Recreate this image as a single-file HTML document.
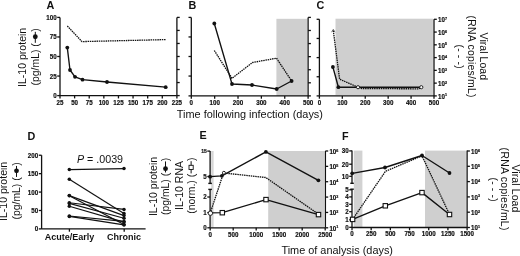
<!DOCTYPE html>
<html><head><meta charset="utf-8"><style>
html,body{margin:0;padding:0;background:#fff;}
body{width:520px;height:256px;overflow:hidden;}
svg{display:block;will-change:transform;}
text{font-family:"Liberation Sans", sans-serif;fill:#111;}
.tk{stroke:#111;stroke-width:0.18px;}
</style></head><body>
<svg width="520" height="256" viewBox="0 0 520 256">
<rect width="520" height="256" fill="#fff"/>
<text x="50.50" y="9.20" font-size="10.8" text-anchor="middle" font-weight="bold" >A</text>
<line x1="60.00" y1="17.40" x2="60.00" y2="95.60" stroke="#111" stroke-width="1.3" />
<line x1="57.20" y1="17.40" x2="60.00" y2="17.40" stroke="#111" stroke-width="1.3" />
<text x="0" y="0" transform="translate(56.60,19.85) scale(1,1.15)" font-size="6.2" text-anchor="end" font-weight="bold" class="tk" >100</text>
<line x1="57.20" y1="36.95" x2="60.00" y2="36.95" stroke="#111" stroke-width="1.3" />
<text x="0" y="0" transform="translate(56.60,39.40) scale(1,1.15)" font-size="6.2" text-anchor="end" font-weight="bold" class="tk" >75</text>
<line x1="57.20" y1="56.50" x2="60.00" y2="56.50" stroke="#111" stroke-width="1.3" />
<text x="0" y="0" transform="translate(56.60,58.95) scale(1,1.15)" font-size="6.2" text-anchor="end" font-weight="bold" class="tk" >50</text>
<line x1="57.20" y1="76.05" x2="60.00" y2="76.05" stroke="#111" stroke-width="1.3" />
<text x="0" y="0" transform="translate(56.60,78.50) scale(1,1.15)" font-size="6.2" text-anchor="end" font-weight="bold" class="tk" >25</text>
<line x1="57.20" y1="95.60" x2="60.00" y2="95.60" stroke="#111" stroke-width="1.3" />
<text x="0" y="0" transform="translate(56.60,98.05) scale(1,1.15)" font-size="6.2" text-anchor="end" font-weight="bold" class="tk" >0</text>
<line x1="60.00" y1="95.60" x2="176.90" y2="95.60" stroke="#111" stroke-width="1.3" />
<line x1="60.00" y1="95.60" x2="60.00" y2="98.40" stroke="#111" stroke-width="1.3" />
<text x="0" y="0" transform="translate(60.00,104.50) scale(1,1.15)" font-size="6.2" text-anchor="middle" font-weight="bold" class="tk" >25</text>
<line x1="74.61" y1="95.60" x2="74.61" y2="98.40" stroke="#111" stroke-width="1.3" />
<text x="0" y="0" transform="translate(74.61,104.50) scale(1,1.15)" font-size="6.2" text-anchor="middle" font-weight="bold" class="tk" >50</text>
<line x1="89.22" y1="95.60" x2="89.22" y2="98.40" stroke="#111" stroke-width="1.3" />
<text x="0" y="0" transform="translate(89.22,104.50) scale(1,1.15)" font-size="6.2" text-anchor="middle" font-weight="bold" class="tk" >75</text>
<line x1="103.84" y1="95.60" x2="103.84" y2="98.40" stroke="#111" stroke-width="1.3" />
<text x="0" y="0" transform="translate(103.84,104.50) scale(1,1.15)" font-size="6.2" text-anchor="middle" font-weight="bold" class="tk" >100</text>
<line x1="118.45" y1="95.60" x2="118.45" y2="98.40" stroke="#111" stroke-width="1.3" />
<text x="0" y="0" transform="translate(118.45,104.50) scale(1,1.15)" font-size="6.2" text-anchor="middle" font-weight="bold" class="tk" >125</text>
<line x1="133.06" y1="95.60" x2="133.06" y2="98.40" stroke="#111" stroke-width="1.3" />
<text x="0" y="0" transform="translate(133.06,104.50) scale(1,1.15)" font-size="6.2" text-anchor="middle" font-weight="bold" class="tk" >150</text>
<line x1="147.68" y1="95.60" x2="147.68" y2="98.40" stroke="#111" stroke-width="1.3" />
<text x="0" y="0" transform="translate(147.68,104.50) scale(1,1.15)" font-size="6.2" text-anchor="middle" font-weight="bold" class="tk" >175</text>
<line x1="162.29" y1="95.60" x2="162.29" y2="98.40" stroke="#111" stroke-width="1.3" />
<text x="0" y="0" transform="translate(162.29,104.50) scale(1,1.15)" font-size="6.2" text-anchor="middle" font-weight="bold" class="tk" >200</text>
<line x1="176.90" y1="95.60" x2="176.90" y2="98.40" stroke="#111" stroke-width="1.3" />
<text x="0" y="0" transform="translate(176.90,104.50) scale(1,1.15)" font-size="6.2" text-anchor="middle" font-weight="bold" class="tk" >225</text>
<line x1="176.90" y1="17.40" x2="176.90" y2="95.60" stroke="#111" stroke-width="1.3" />
<line x1="176.90" y1="17.40" x2="179.70" y2="17.40" stroke="#111" stroke-width="1.3" />
<line x1="176.90" y1="30.43" x2="179.70" y2="30.43" stroke="#111" stroke-width="1.3" />
<line x1="176.90" y1="43.46" x2="179.70" y2="43.46" stroke="#111" stroke-width="1.3" />
<line x1="176.90" y1="56.49" x2="179.70" y2="56.49" stroke="#111" stroke-width="1.3" />
<line x1="176.90" y1="69.52" x2="179.70" y2="69.52" stroke="#111" stroke-width="1.3" />
<line x1="176.90" y1="82.55" x2="179.70" y2="82.55" stroke="#111" stroke-width="1.3" />
<line x1="176.90" y1="95.58" x2="179.70" y2="95.58" stroke="#111" stroke-width="1.3" />
<polyline points="67.30,26.00 82.00,41.60 166.00,39.60" fill="none" stroke="#111" stroke-width="1.3" stroke-linejoin="round" stroke-dasharray="1.5 0.75"/>
<polyline points="67.30,47.60 70.00,70.00 75.00,76.80 82.50,79.70 107.00,82.00 165.70,87.20" fill="none" stroke="#111" stroke-width="1.35" stroke-linejoin="round"/>
<circle cx="67.30" cy="47.60" r="1.9" fill="#111"/>
<circle cx="70.00" cy="70.00" r="1.9" fill="#111"/>
<circle cx="75.00" cy="76.80" r="1.9" fill="#111"/>
<circle cx="82.50" cy="79.70" r="1.9" fill="#111"/>
<circle cx="107.00" cy="82.00" r="1.9" fill="#111"/>
<circle cx="165.70" cy="87.20" r="1.9" fill="#111"/>
<text x="192.50" y="9.20" font-size="10.8" text-anchor="middle" font-weight="bold" >B</text>
<rect x="276.40" y="18.80" width="30.70" height="77.10" fill="#cfcfcf"/>
<line x1="191.30" y1="17.40" x2="191.30" y2="95.90" stroke="#111" stroke-width="1.3" />
<line x1="188.50" y1="17.40" x2="191.30" y2="17.40" stroke="#111" stroke-width="1.3" />
<line x1="188.50" y1="36.95" x2="191.30" y2="36.95" stroke="#111" stroke-width="1.3" />
<line x1="188.50" y1="56.50" x2="191.30" y2="56.50" stroke="#111" stroke-width="1.3" />
<line x1="188.50" y1="76.05" x2="191.30" y2="76.05" stroke="#111" stroke-width="1.3" />
<line x1="188.50" y1="95.90" x2="191.30" y2="95.90" stroke="#111" stroke-width="1.3" />
<line x1="191.30" y1="95.90" x2="308.10" y2="95.90" stroke="#111" stroke-width="1.3" />
<line x1="191.30" y1="95.90" x2="191.30" y2="98.70" stroke="#111" stroke-width="1.3" />
<text x="0" y="0" transform="translate(191.30,104.80) scale(1,1.15)" font-size="6.2" text-anchor="middle" font-weight="bold" class="tk" >0</text>
<line x1="214.66" y1="95.90" x2="214.66" y2="98.70" stroke="#111" stroke-width="1.3" />
<text x="0" y="0" transform="translate(214.66,104.80) scale(1,1.15)" font-size="6.2" text-anchor="middle" font-weight="bold" class="tk" >100</text>
<line x1="238.02" y1="95.90" x2="238.02" y2="98.70" stroke="#111" stroke-width="1.3" />
<text x="0" y="0" transform="translate(238.02,104.80) scale(1,1.15)" font-size="6.2" text-anchor="middle" font-weight="bold" class="tk" >200</text>
<line x1="261.38" y1="95.90" x2="261.38" y2="98.70" stroke="#111" stroke-width="1.3" />
<text x="0" y="0" transform="translate(261.38,104.80) scale(1,1.15)" font-size="6.2" text-anchor="middle" font-weight="bold" class="tk" >300</text>
<line x1="284.74" y1="95.90" x2="284.74" y2="98.70" stroke="#111" stroke-width="1.3" />
<text x="0" y="0" transform="translate(284.74,104.80) scale(1,1.15)" font-size="6.2" text-anchor="middle" font-weight="bold" class="tk" >400</text>
<line x1="308.10" y1="95.90" x2="308.10" y2="98.70" stroke="#111" stroke-width="1.3" />
<text x="0" y="0" transform="translate(308.10,104.80) scale(1,1.15)" font-size="6.2" text-anchor="middle" font-weight="bold" class="tk" >500</text>
<line x1="308.10" y1="17.40" x2="308.10" y2="95.90" stroke="#111" stroke-width="1.3" />
<line x1="308.10" y1="17.40" x2="310.90" y2="17.40" stroke="#111" stroke-width="1.3" />
<line x1="308.10" y1="30.48" x2="310.90" y2="30.48" stroke="#111" stroke-width="1.3" />
<line x1="308.10" y1="43.56" x2="310.90" y2="43.56" stroke="#111" stroke-width="1.3" />
<line x1="308.10" y1="56.64" x2="310.90" y2="56.64" stroke="#111" stroke-width="1.3" />
<line x1="308.10" y1="69.72" x2="310.90" y2="69.72" stroke="#111" stroke-width="1.3" />
<line x1="308.10" y1="82.80" x2="310.90" y2="82.80" stroke="#111" stroke-width="1.3" />
<line x1="308.10" y1="95.88" x2="310.90" y2="95.88" stroke="#111" stroke-width="1.3" />
<polyline points="214.30,50.50 232.00,78.30 252.50,62.50 276.50,58.20 291.60,81.00" fill="none" stroke="#111" stroke-width="1.3" stroke-linejoin="round" stroke-dasharray="1.5 0.75"/>
<polyline points="214.30,23.50 232.00,84.00 252.00,85.00 276.70,89.00 291.60,81.00" fill="none" stroke="#111" stroke-width="1.35" stroke-linejoin="round"/>
<circle cx="214.30" cy="23.50" r="1.9" fill="#111"/>
<circle cx="232.00" cy="84.00" r="1.9" fill="#111"/>
<circle cx="252.00" cy="85.00" r="1.9" fill="#111"/>
<circle cx="276.70" cy="89.00" r="1.9" fill="#111"/>
<circle cx="291.60" cy="81.00" r="1.9" fill="#111"/>
<text x="320.50" y="9.20" font-size="10.8" text-anchor="middle" font-weight="bold" >C</text>
<rect x="335.50" y="18.70" width="97.40" height="76.30" fill="#cfcfcf"/>
<line x1="319.40" y1="19.30" x2="319.40" y2="95.90" stroke="#111" stroke-width="1.3" />
<line x1="316.60" y1="19.30" x2="319.40" y2="19.30" stroke="#111" stroke-width="1.3" />
<line x1="316.60" y1="38.45" x2="319.40" y2="38.45" stroke="#111" stroke-width="1.3" />
<line x1="316.60" y1="57.60" x2="319.40" y2="57.60" stroke="#111" stroke-width="1.3" />
<line x1="316.60" y1="76.75" x2="319.40" y2="76.75" stroke="#111" stroke-width="1.3" />
<line x1="316.60" y1="95.90" x2="319.40" y2="95.90" stroke="#111" stroke-width="1.3" />
<line x1="319.40" y1="95.90" x2="434.00" y2="95.90" stroke="#111" stroke-width="1.3" />
<line x1="319.40" y1="95.90" x2="319.40" y2="98.70" stroke="#111" stroke-width="1.3" />
<text x="0" y="0" transform="translate(319.40,104.80) scale(1,1.15)" font-size="6.2" text-anchor="middle" font-weight="bold" class="tk" >0</text>
<line x1="342.32" y1="95.90" x2="342.32" y2="98.70" stroke="#111" stroke-width="1.3" />
<text x="0" y="0" transform="translate(342.32,104.80) scale(1,1.15)" font-size="6.2" text-anchor="middle" font-weight="bold" class="tk" >100</text>
<line x1="365.24" y1="95.90" x2="365.24" y2="98.70" stroke="#111" stroke-width="1.3" />
<text x="0" y="0" transform="translate(365.24,104.80) scale(1,1.15)" font-size="6.2" text-anchor="middle" font-weight="bold" class="tk" >200</text>
<line x1="388.16" y1="95.90" x2="388.16" y2="98.70" stroke="#111" stroke-width="1.3" />
<text x="0" y="0" transform="translate(388.16,104.80) scale(1,1.15)" font-size="6.2" text-anchor="middle" font-weight="bold" class="tk" >300</text>
<line x1="411.08" y1="95.90" x2="411.08" y2="98.70" stroke="#111" stroke-width="1.3" />
<text x="0" y="0" transform="translate(411.08,104.80) scale(1,1.15)" font-size="6.2" text-anchor="middle" font-weight="bold" class="tk" >400</text>
<line x1="434.00" y1="95.90" x2="434.00" y2="98.70" stroke="#111" stroke-width="1.3" />
<text x="0" y="0" transform="translate(434.00,104.80) scale(1,1.15)" font-size="6.2" text-anchor="middle" font-weight="bold" class="tk" >500</text>
<line x1="434.00" y1="19.30" x2="434.00" y2="95.90" stroke="#111" stroke-width="1.3" />
<line x1="434.00" y1="19.30" x2="436.80" y2="19.30" stroke="#111" stroke-width="1.3" />
<text x="0" y="0" transform="translate(438.00,22.15) scale(1,1.15)" font-size="6.2" text-anchor="start" font-weight="bold" class="tk" >10<tspan font-size="3.7" dy="-2.0">7</tspan></text>
<line x1="434.00" y1="32.07" x2="436.80" y2="32.07" stroke="#111" stroke-width="1.3" />
<text x="0" y="0" transform="translate(438.00,34.92) scale(1,1.15)" font-size="6.2" text-anchor="start" font-weight="bold" class="tk" >10<tspan font-size="3.7" dy="-2.0">6</tspan></text>
<line x1="434.00" y1="44.83" x2="436.80" y2="44.83" stroke="#111" stroke-width="1.3" />
<text x="0" y="0" transform="translate(438.00,47.68) scale(1,1.15)" font-size="6.2" text-anchor="start" font-weight="bold" class="tk" >10<tspan font-size="3.7" dy="-2.0">5</tspan></text>
<line x1="434.00" y1="57.60" x2="436.80" y2="57.60" stroke="#111" stroke-width="1.3" />
<text x="0" y="0" transform="translate(438.00,60.45) scale(1,1.15)" font-size="6.2" text-anchor="start" font-weight="bold" class="tk" >10<tspan font-size="3.7" dy="-2.0">4</tspan></text>
<line x1="434.00" y1="70.37" x2="436.80" y2="70.37" stroke="#111" stroke-width="1.3" />
<text x="0" y="0" transform="translate(438.00,73.22) scale(1,1.15)" font-size="6.2" text-anchor="start" font-weight="bold" class="tk" >10<tspan font-size="3.7" dy="-2.0">3</tspan></text>
<line x1="434.00" y1="83.13" x2="436.80" y2="83.13" stroke="#111" stroke-width="1.3" />
<text x="0" y="0" transform="translate(438.00,85.98) scale(1,1.15)" font-size="6.2" text-anchor="start" font-weight="bold" class="tk" >10<tspan font-size="3.7" dy="-2.0">2</tspan></text>
<line x1="434.00" y1="95.90" x2="436.80" y2="95.90" stroke="#111" stroke-width="1.3" />
<text x="0" y="0" transform="translate(438.00,98.75) scale(1,1.15)" font-size="6.2" text-anchor="start" font-weight="bold" class="tk" >10<tspan font-size="3.7" dy="-2.0">1</tspan></text>
<polyline points="333.30,30.50 339.60,79.20 358.00,87.20 362.00,88.60 418.50,88.80 421.30,87.60" fill="none" stroke="#111" stroke-width="1.3" stroke-linejoin="round" stroke-dasharray="1.5 0.75"/>
<polyline points="332.90,67.00 338.40,87.20 358.00,87.20 421.30,87.20" fill="none" stroke="#111" stroke-width="1.35" stroke-linejoin="round"/>
<circle cx="332.90" cy="67.00" r="1.9" fill="#111"/>
<circle cx="338.40" cy="87.20" r="1.9" fill="#111"/>
<circle cx="358.00" cy="87.20" r="1.6" fill="#fff" stroke="#111" stroke-width="0.9"/>
<circle cx="421.30" cy="87.20" r="1.6" fill="#fff" stroke="#111" stroke-width="0.9"/>
<path d="M331.6,32.2 L333.3,29.4 L335.0,32.2" fill="none" stroke="#444" stroke-width="0.8"/>
<text x="249.90" y="117.80" font-size="10.9" text-anchor="middle" font-weight="normal" >Time following infection (days)</text>
<text x="31.50" y="140.20" font-size="10.8" text-anchor="middle" font-weight="bold" >D</text>
<line x1="41.60" y1="155.20" x2="41.60" y2="228.90" stroke="#111" stroke-width="1.3" />
<line x1="38.80" y1="155.24" x2="41.60" y2="155.24" stroke="#111" stroke-width="1.3" />
<text x="0" y="0" transform="translate(38.20,157.69) scale(1,1.15)" font-size="6.2" text-anchor="end" font-weight="bold" class="tk" >200</text>
<line x1="38.80" y1="173.66" x2="41.60" y2="173.66" stroke="#111" stroke-width="1.3" />
<text x="0" y="0" transform="translate(38.20,176.10) scale(1,1.15)" font-size="6.2" text-anchor="end" font-weight="bold" class="tk" >150</text>
<line x1="38.80" y1="192.07" x2="41.60" y2="192.07" stroke="#111" stroke-width="1.3" />
<text x="0" y="0" transform="translate(38.20,194.52) scale(1,1.15)" font-size="6.2" text-anchor="end" font-weight="bold" class="tk" >100</text>
<line x1="38.80" y1="210.49" x2="41.60" y2="210.49" stroke="#111" stroke-width="1.3" />
<text x="0" y="0" transform="translate(38.20,212.94) scale(1,1.15)" font-size="6.2" text-anchor="end" font-weight="bold" class="tk" >50</text>
<line x1="38.80" y1="228.90" x2="41.60" y2="228.90" stroke="#111" stroke-width="1.3" />
<text x="0" y="0" transform="translate(38.20,231.35) scale(1,1.15)" font-size="6.2" text-anchor="end" font-weight="bold" class="tk" >0</text>
<line x1="41.60" y1="228.90" x2="145.60" y2="228.90" stroke="#111" stroke-width="1.3" />
<line x1="69.40" y1="228.90" x2="69.40" y2="231.70" stroke="#111" stroke-width="1.3" />
<line x1="124.20" y1="228.90" x2="124.20" y2="231.70" stroke="#111" stroke-width="1.3" />
<text x="69.60" y="239.60" font-size="9.0" text-anchor="middle" font-weight="bold" >Acute/Early</text>
<text x="123.90" y="239.60" font-size="9.0" text-anchor="middle" font-weight="bold" >Chronic</text>
<text x="100.00" y="162.80" font-size="10.7" text-anchor="middle" font-weight="normal" ><tspan font-style="italic">P</tspan> = .0039</text>
<line x1="69.30" y1="169.60" x2="124.00" y2="168.60" stroke="#111" stroke-width="1.15" />
<line x1="69.30" y1="179.30" x2="124.00" y2="213.60" stroke="#111" stroke-width="1.15" />
<line x1="69.30" y1="195.60" x2="124.00" y2="215.60" stroke="#111" stroke-width="1.15" />
<line x1="69.30" y1="195.80" x2="124.00" y2="224.40" stroke="#111" stroke-width="1.15" />
<line x1="69.30" y1="202.80" x2="124.00" y2="209.40" stroke="#111" stroke-width="1.15" />
<line x1="69.30" y1="203.40" x2="124.00" y2="218.20" stroke="#111" stroke-width="1.15" />
<line x1="69.30" y1="206.30" x2="124.00" y2="222.10" stroke="#111" stroke-width="1.15" />
<line x1="69.30" y1="216.00" x2="124.00" y2="221.40" stroke="#111" stroke-width="1.15" />
<line x1="69.30" y1="216.40" x2="124.00" y2="224.90" stroke="#111" stroke-width="1.15" />
<circle cx="69.30" cy="169.60" r="1.75" fill="#111"/>
<circle cx="124.00" cy="168.60" r="1.75" fill="#111"/>
<circle cx="69.30" cy="179.30" r="1.75" fill="#111"/>
<circle cx="124.00" cy="213.60" r="1.75" fill="#111"/>
<circle cx="69.30" cy="195.60" r="1.75" fill="#111"/>
<circle cx="124.00" cy="215.60" r="1.75" fill="#111"/>
<circle cx="69.30" cy="195.80" r="1.75" fill="#111"/>
<circle cx="124.00" cy="224.40" r="1.75" fill="#111"/>
<circle cx="69.30" cy="202.80" r="1.75" fill="#111"/>
<circle cx="124.00" cy="209.40" r="1.75" fill="#111"/>
<circle cx="69.30" cy="203.40" r="1.75" fill="#111"/>
<circle cx="124.00" cy="218.20" r="1.75" fill="#111"/>
<circle cx="69.30" cy="206.30" r="1.75" fill="#111"/>
<circle cx="124.00" cy="222.10" r="1.75" fill="#111"/>
<circle cx="69.30" cy="216.00" r="1.75" fill="#111"/>
<circle cx="124.00" cy="221.40" r="1.75" fill="#111"/>
<circle cx="69.30" cy="216.40" r="1.75" fill="#111"/>
<circle cx="124.00" cy="224.90" r="1.75" fill="#111"/>
<text x="203.00" y="139.40" font-size="10.8" text-anchor="middle" font-weight="bold" >E</text>
<rect x="211.20" y="151.00" width="2.40" height="76.80" fill="#d6d6d6"/>
<rect x="268.20" y="151.00" width="55.80" height="76.80" fill="#cfcfcf"/>
<line x1="210.10" y1="151.00" x2="210.10" y2="183.40" stroke="#111" stroke-width="1.3" />
<line x1="210.10" y1="189.30" x2="210.10" y2="227.80" stroke="#111" stroke-width="1.3" />
<line x1="208.30" y1="183.40" x2="211.90" y2="183.40" stroke="#111" stroke-width="1.4" />
<line x1="208.30" y1="189.40" x2="211.90" y2="189.40" stroke="#111" stroke-width="1.4" />
<line x1="207.30" y1="151.10" x2="210.10" y2="151.10" stroke="#111" stroke-width="1.3" />
<text x="206.80" y="152.50" font-size="5.0" text-anchor="end" font-weight="bold" class="tk">15</text>
<line x1="207.30" y1="176.50" x2="210.10" y2="176.50" stroke="#111" stroke-width="1.3" />
<text x="0" y="0" transform="translate(206.70,178.95) scale(1,1.15)" font-size="6.2" text-anchor="end" font-weight="bold" class="tk" >5</text>
<line x1="207.30" y1="197.00" x2="210.10" y2="197.00" stroke="#111" stroke-width="1.3" />
<text x="0" y="0" transform="translate(206.70,199.45) scale(1,1.15)" font-size="6.2" text-anchor="end" font-weight="bold" class="tk" >2</text>
<line x1="207.30" y1="212.60" x2="210.10" y2="212.60" stroke="#111" stroke-width="1.3" />
<text x="0" y="0" transform="translate(206.70,215.05) scale(1,1.15)" font-size="6.2" text-anchor="end" font-weight="bold" class="tk" >1</text>
<line x1="207.30" y1="227.80" x2="210.10" y2="227.80" stroke="#111" stroke-width="1.3" />
<text x="0" y="0" transform="translate(206.70,230.25) scale(1,1.15)" font-size="6.2" text-anchor="end" font-weight="bold" class="tk" >0</text>
<line x1="210.10" y1="227.80" x2="325.40" y2="227.80" stroke="#111" stroke-width="1.3" />
<line x1="210.20" y1="227.80" x2="210.20" y2="230.60" stroke="#111" stroke-width="1.3" />
<text x="0" y="0" transform="translate(210.20,236.70) scale(1,1.15)" font-size="6.2" text-anchor="middle" font-weight="bold" class="tk" >0</text>
<line x1="233.20" y1="227.80" x2="233.20" y2="230.60" stroke="#111" stroke-width="1.3" />
<text x="0" y="0" transform="translate(233.20,236.70) scale(1,1.15)" font-size="6.2" text-anchor="middle" font-weight="bold" class="tk" >500</text>
<line x1="256.20" y1="227.80" x2="256.20" y2="230.60" stroke="#111" stroke-width="1.3" />
<text x="0" y="0" transform="translate(256.20,236.70) scale(1,1.15)" font-size="6.2" text-anchor="middle" font-weight="bold" class="tk" >1000</text>
<line x1="279.20" y1="227.80" x2="279.20" y2="230.60" stroke="#111" stroke-width="1.3" />
<text x="0" y="0" transform="translate(279.20,236.70) scale(1,1.15)" font-size="6.2" text-anchor="middle" font-weight="bold" class="tk" >1500</text>
<line x1="302.20" y1="227.80" x2="302.20" y2="230.60" stroke="#111" stroke-width="1.3" />
<text x="0" y="0" transform="translate(302.20,236.70) scale(1,1.15)" font-size="6.2" text-anchor="middle" font-weight="bold" class="tk" >2000</text>
<line x1="325.20" y1="227.80" x2="325.20" y2="230.60" stroke="#111" stroke-width="1.3" />
<text x="0" y="0" transform="translate(325.20,236.70) scale(1,1.15)" font-size="6.2" text-anchor="middle" font-weight="bold" class="tk" >2500</text>
<line x1="325.40" y1="151.00" x2="325.40" y2="227.80" stroke="#111" stroke-width="1.3" />
<line x1="325.40" y1="151.00" x2="328.20" y2="151.00" stroke="#111" stroke-width="1.3" />
<text x="0" y="0" transform="translate(329.40,153.85) scale(1,1.15)" font-size="6.2" text-anchor="start" font-weight="bold" class="tk" >10<tspan font-size="3.7" dy="-2.0">6</tspan></text>
<line x1="325.40" y1="166.36" x2="328.20" y2="166.36" stroke="#111" stroke-width="1.3" />
<text x="0" y="0" transform="translate(329.40,169.21) scale(1,1.15)" font-size="6.2" text-anchor="start" font-weight="bold" class="tk" >10<tspan font-size="3.7" dy="-2.0">5</tspan></text>
<line x1="325.40" y1="181.72" x2="328.20" y2="181.72" stroke="#111" stroke-width="1.3" />
<text x="0" y="0" transform="translate(329.40,184.57) scale(1,1.15)" font-size="6.2" text-anchor="start" font-weight="bold" class="tk" >10<tspan font-size="3.7" dy="-2.0">4</tspan></text>
<line x1="325.40" y1="197.08" x2="328.20" y2="197.08" stroke="#111" stroke-width="1.3" />
<text x="0" y="0" transform="translate(329.40,199.93) scale(1,1.15)" font-size="6.2" text-anchor="start" font-weight="bold" class="tk" >10<tspan font-size="3.7" dy="-2.0">3</tspan></text>
<line x1="325.40" y1="212.44" x2="328.20" y2="212.44" stroke="#111" stroke-width="1.3" />
<text x="0" y="0" transform="translate(329.40,215.29) scale(1,1.15)" font-size="6.2" text-anchor="start" font-weight="bold" class="tk" >10<tspan font-size="3.7" dy="-2.0">2</tspan></text>
<line x1="325.40" y1="227.80" x2="328.20" y2="227.80" stroke="#111" stroke-width="1.3" />
<text x="0" y="0" transform="translate(329.40,230.65) scale(1,1.15)" font-size="6.2" text-anchor="start" font-weight="bold" class="tk" >10<tspan font-size="3.7" dy="-2.0">1</tspan></text>
<polyline points="210.20,213.20 223.50,173.00 265.80,177.50 318.50,214.20" fill="none" stroke="#111" stroke-width="1.3" stroke-linejoin="round" stroke-dasharray="1.5 0.75"/>
<polyline points="210.10,176.70 221.90,175.80 265.90,151.90 318.40,180.30" fill="none" stroke="#111" stroke-width="1.35" stroke-linejoin="round"/>
<circle cx="210.10" cy="176.70" r="1.9" fill="#111"/>
<circle cx="221.90" cy="175.80" r="1.9" fill="#111"/>
<circle cx="265.90" cy="151.90" r="1.9" fill="#111"/>
<circle cx="318.40" cy="180.30" r="1.9" fill="#111"/>
<circle cx="223.90" cy="172.80" r="1.5" fill="#fff" stroke="#111" stroke-width="0.9"/>
<polyline points="210.40,212.90 222.30,212.70 266.00,199.60 318.50,214.60" fill="none" stroke="#111" stroke-width="1.35" stroke-linejoin="round"/>
<rect x="220.10" y="210.50" width="4.4" height="4.4" fill="#fff" stroke="#111" stroke-width="1.1"/>
<rect x="263.80" y="197.40" width="4.4" height="4.4" fill="#fff" stroke="#111" stroke-width="1.1"/>
<rect x="316.30" y="212.40" width="4.4" height="4.4" fill="#fff" stroke="#111" stroke-width="1.1"/>
<circle cx="210.40" cy="213.20" r="2.2" fill="#fff" stroke="#111" stroke-width="0.9"/>
<text x="345.40" y="139.60" font-size="10.8" text-anchor="middle" font-weight="bold" >F</text>
<rect x="353.80" y="150.60" width="8.60" height="76.70" fill="#d2d2d2"/>
<rect x="425.00" y="150.60" width="40.90" height="76.90" fill="#cfcfcf"/>
<line x1="352.00" y1="150.60" x2="352.00" y2="183.30" stroke="#111" stroke-width="1.3" />
<line x1="352.00" y1="189.20" x2="352.00" y2="227.50" stroke="#111" stroke-width="1.3" />
<line x1="350.30" y1="183.30" x2="353.80" y2="183.30" stroke="#111" stroke-width="1.4" />
<line x1="350.30" y1="189.20" x2="353.80" y2="189.20" stroke="#111" stroke-width="1.4" />
<line x1="349.20" y1="150.90" x2="352.00" y2="150.90" stroke="#111" stroke-width="1.3" />
<text x="0" y="0" transform="translate(348.60,153.35) scale(1,1.15)" font-size="6.2" text-anchor="end" font-weight="bold" class="tk" >30</text>
<line x1="349.20" y1="164.20" x2="352.00" y2="164.20" stroke="#111" stroke-width="1.3" />
<text x="0" y="0" transform="translate(348.60,166.65) scale(1,1.15)" font-size="6.2" text-anchor="end" font-weight="bold" class="tk" >20</text>
<line x1="349.20" y1="176.30" x2="352.00" y2="176.30" stroke="#111" stroke-width="1.3" />
<text x="0" y="0" transform="translate(348.60,178.75) scale(1,1.15)" font-size="6.2" text-anchor="end" font-weight="bold" class="tk" >10</text>
<line x1="349.20" y1="189.80" x2="352.00" y2="189.80" stroke="#111" stroke-width="1.3" />
<text x="0" y="0" transform="translate(348.60,192.25) scale(1,1.15)" font-size="6.2" text-anchor="end" font-weight="bold" class="tk" >5</text>
<line x1="349.20" y1="196.90" x2="352.00" y2="196.90" stroke="#111" stroke-width="1.3" />
<text x="0" y="0" transform="translate(348.60,199.35) scale(1,1.15)" font-size="6.2" text-anchor="end" font-weight="bold" class="tk" >4</text>
<line x1="349.20" y1="204.30" x2="352.00" y2="204.30" stroke="#111" stroke-width="1.3" />
<text x="0" y="0" transform="translate(348.60,206.75) scale(1,1.15)" font-size="6.2" text-anchor="end" font-weight="bold" class="tk" >3</text>
<line x1="349.20" y1="211.70" x2="352.00" y2="211.70" stroke="#111" stroke-width="1.3" />
<text x="0" y="0" transform="translate(348.60,214.15) scale(1,1.15)" font-size="6.2" text-anchor="end" font-weight="bold" class="tk" >2</text>
<line x1="349.20" y1="219.80" x2="352.00" y2="219.80" stroke="#111" stroke-width="1.3" />
<text x="0" y="0" transform="translate(348.60,222.25) scale(1,1.15)" font-size="6.2" text-anchor="end" font-weight="bold" class="tk" >1</text>
<line x1="349.20" y1="227.30" x2="352.00" y2="227.30" stroke="#111" stroke-width="1.3" />
<text x="0" y="0" transform="translate(348.60,229.75) scale(1,1.15)" font-size="6.2" text-anchor="end" font-weight="bold" class="tk" >0</text>
<line x1="352.00" y1="227.50" x2="467.10" y2="227.50" stroke="#111" stroke-width="1.3" />
<line x1="352.00" y1="227.50" x2="352.00" y2="230.30" stroke="#111" stroke-width="1.3" />
<text x="0" y="0" transform="translate(352.00,236.40) scale(1,1.15)" font-size="6.2" text-anchor="middle" font-weight="bold" class="tk" >0</text>
<line x1="371.18" y1="227.50" x2="371.18" y2="230.30" stroke="#111" stroke-width="1.3" />
<text x="0" y="0" transform="translate(371.18,236.40) scale(1,1.15)" font-size="6.2" text-anchor="middle" font-weight="bold" class="tk" >250</text>
<line x1="390.37" y1="227.50" x2="390.37" y2="230.30" stroke="#111" stroke-width="1.3" />
<text x="0" y="0" transform="translate(390.37,236.40) scale(1,1.15)" font-size="6.2" text-anchor="middle" font-weight="bold" class="tk" >500</text>
<line x1="409.55" y1="227.50" x2="409.55" y2="230.30" stroke="#111" stroke-width="1.3" />
<text x="0" y="0" transform="translate(409.55,236.40) scale(1,1.15)" font-size="6.2" text-anchor="middle" font-weight="bold" class="tk" >750</text>
<line x1="428.73" y1="227.50" x2="428.73" y2="230.30" stroke="#111" stroke-width="1.3" />
<text x="0" y="0" transform="translate(428.73,236.40) scale(1,1.15)" font-size="6.2" text-anchor="middle" font-weight="bold" class="tk" >1000</text>
<line x1="447.91" y1="227.50" x2="447.91" y2="230.30" stroke="#111" stroke-width="1.3" />
<text x="0" y="0" transform="translate(447.91,236.40) scale(1,1.15)" font-size="6.2" text-anchor="middle" font-weight="bold" class="tk" >1250</text>
<line x1="467.10" y1="227.50" x2="467.10" y2="230.30" stroke="#111" stroke-width="1.3" />
<text x="0" y="0" transform="translate(467.10,236.40) scale(1,1.15)" font-size="6.2" text-anchor="middle" font-weight="bold" class="tk" >1500</text>
<line x1="467.10" y1="150.60" x2="467.10" y2="227.50" stroke="#111" stroke-width="1.3" />
<line x1="467.10" y1="151.00" x2="469.90" y2="151.00" stroke="#111" stroke-width="1.3" />
<text x="0" y="0" transform="translate(471.10,153.85) scale(1,1.15)" font-size="6.2" text-anchor="start" font-weight="bold" class="tk" >10<tspan font-size="3.7" dy="-2.0">6</tspan></text>
<line x1="467.10" y1="166.30" x2="469.90" y2="166.30" stroke="#111" stroke-width="1.3" />
<text x="0" y="0" transform="translate(471.10,169.15) scale(1,1.15)" font-size="6.2" text-anchor="start" font-weight="bold" class="tk" >10<tspan font-size="3.7" dy="-2.0">5</tspan></text>
<line x1="467.10" y1="181.60" x2="469.90" y2="181.60" stroke="#111" stroke-width="1.3" />
<text x="0" y="0" transform="translate(471.10,184.45) scale(1,1.15)" font-size="6.2" text-anchor="start" font-weight="bold" class="tk" >10<tspan font-size="3.7" dy="-2.0">4</tspan></text>
<line x1="467.10" y1="196.90" x2="469.90" y2="196.90" stroke="#111" stroke-width="1.3" />
<text x="0" y="0" transform="translate(471.10,199.75) scale(1,1.15)" font-size="6.2" text-anchor="start" font-weight="bold" class="tk" >10<tspan font-size="3.7" dy="-2.0">3</tspan></text>
<line x1="467.10" y1="212.20" x2="469.90" y2="212.20" stroke="#111" stroke-width="1.3" />
<text x="0" y="0" transform="translate(471.10,215.05) scale(1,1.15)" font-size="6.2" text-anchor="start" font-weight="bold" class="tk" >10<tspan font-size="3.7" dy="-2.0">2</tspan></text>
<line x1="467.10" y1="227.50" x2="469.90" y2="227.50" stroke="#111" stroke-width="1.3" />
<text x="0" y="0" transform="translate(471.10,230.35) scale(1,1.15)" font-size="6.2" text-anchor="start" font-weight="bold" class="tk" >10<tspan font-size="3.7" dy="-2.0">1</tspan></text>
<polyline points="352.60,219.40 385.50,171.30 422.00,155.80 449.50,214.40" fill="none" stroke="#111" stroke-width="1.3" stroke-linejoin="round" stroke-dasharray="1.5 0.75"/>
<polyline points="352.20,173.30 385.00,167.50 422.00,155.50 449.50,173.00" fill="none" stroke="#111" stroke-width="1.35" stroke-linejoin="round"/>
<circle cx="352.20" cy="173.30" r="1.9" fill="#111"/>
<circle cx="385.00" cy="167.50" r="1.9" fill="#111"/>
<circle cx="422.00" cy="155.50" r="1.9" fill="#111"/>
<circle cx="449.50" cy="173.00" r="1.9" fill="#111"/>
<polyline points="352.60,219.40 385.30,205.80 422.00,192.60 449.50,214.50" fill="none" stroke="#111" stroke-width="1.35" stroke-linejoin="round"/>
<rect x="350.40" y="217.20" width="4.4" height="4.4" fill="#fff" stroke="#111" stroke-width="1.1"/>
<rect x="383.10" y="203.60" width="4.4" height="4.4" fill="#fff" stroke="#111" stroke-width="1.1"/>
<rect x="419.80" y="190.40" width="4.4" height="4.4" fill="#fff" stroke="#111" stroke-width="1.1"/>
<rect x="447.30" y="212.30" width="4.4" height="4.4" fill="#fff" stroke="#111" stroke-width="1.1"/>
<text x="337.20" y="253.50" font-size="10.9" text-anchor="middle" font-weight="normal" >Time of analysis (days)</text>
<text x="0" y="0" font-size="10.55" text-anchor="middle" transform="translate(26.20,57.40) rotate(-90)" >IL-10 protein</text>
<g transform="translate(39.00,56.80) rotate(-90)">
<text x="-28.62" y="0" font-size="10.4">(pg/mL) (</text>
<line x1="13.96" y1="-3.69" x2="24.96" y2="-3.69" stroke="#111" stroke-width="1.0"/>
<circle cx="20.06" cy="-3.69" r="2.4" fill="#111"/>
<text x="25.16" y="0" font-size="10.4">)</text>
</g>
<text x="0" y="0" font-size="10.55" text-anchor="middle" transform="translate(7.40,191.40) rotate(-90)" >IL-10 protein</text>
<g transform="translate(20.20,190.90) rotate(-90)">
<text x="-28.62" y="0" font-size="10.4">(pg/mL) (</text>
<line x1="13.96" y1="-3.69" x2="24.96" y2="-3.69" stroke="#111" stroke-width="1.0"/>
<circle cx="20.06" cy="-3.69" r="2.4" fill="#111"/>
<text x="25.16" y="0" font-size="10.4">)</text>
</g>
<text x="0" y="0" font-size="10.55" text-anchor="middle" transform="translate(156.80,186.50) rotate(-90)" >IL-10 protein</text>
<g transform="translate(169.20,186.40) rotate(-90)">
<text x="-28.62" y="0" font-size="10.4">(pg/mL) (</text>
<line x1="13.96" y1="-3.69" x2="24.96" y2="-3.69" stroke="#111" stroke-width="1.0"/>
<circle cx="17.76" cy="-3.69" r="2.4" fill="#111"/>
<text x="25.16" y="0" font-size="10.4">)</text>
</g>
<text x="0" y="0" font-size="10.5" text-anchor="middle" transform="translate(182.80,185.50) rotate(-90)" >IL-10 RNA</text>
<g transform="translate(194.80,185.60) rotate(-90)">
<text x="-28.06" y="0" font-size="10.4">(norm.) (</text>
<line x1="12.20" y1="-3.69" x2="24.40" y2="-3.69" stroke="#111" stroke-width="1.0"/>
<rect x="16.10" y="-5.79" width="4.2" height="4.2" fill="#fff" stroke="#111" stroke-width="0.9"/>
<text x="24.60" y="0" font-size="10.4">)</text>
</g>
<text x="0" y="0" font-size="10.5" text-anchor="middle" transform="translate(479.60,56.30) rotate(90)"  textLength="47.6" lengthAdjust="spacing">Viral Load</text>
<text x="0" y="0" font-size="10.4" text-anchor="middle" transform="translate(467.50,56.50) rotate(90)"  textLength="82.0" lengthAdjust="spacing">(RNA copies/mL)</text>
<text x="0" y="0" font-size="10.4" text-anchor="middle" transform="translate(456.00,56.60) rotate(90)"  textLength="24.2" lengthAdjust="spacing">(- - -)</text>
<text x="0" y="0" font-size="10.5" text-anchor="middle" transform="translate(512.00,188.40) rotate(90)"  textLength="48.0" lengthAdjust="spacing">Viral Load</text>
<text x="0" y="0" font-size="10.4" text-anchor="middle" transform="translate(501.20,189.00) rotate(90)"  textLength="82.8" lengthAdjust="spacing">(RNA copies/mL)</text>
<text x="0" y="0" font-size="10.4" text-anchor="middle" transform="translate(489.60,189.60) rotate(90)"  textLength="24.0" lengthAdjust="spacing">(- - -)</text>
</svg>
</body></html>
